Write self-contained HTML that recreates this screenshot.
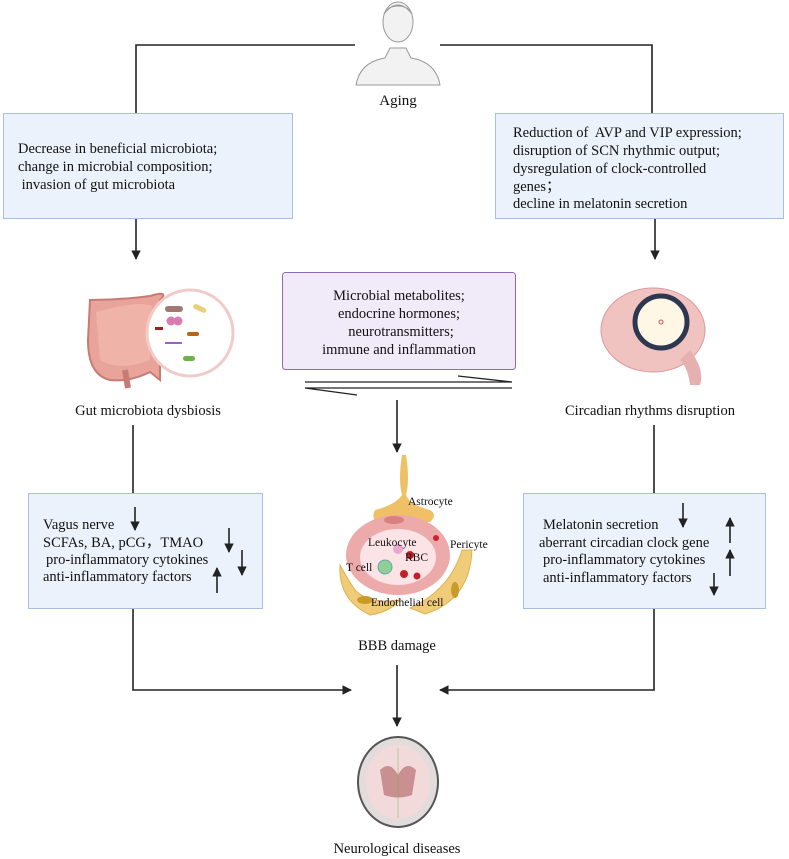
<!DOCTYPE html>
<html><head><meta charset="utf-8"><style>
html,body{margin:0;padding:0;background:#fff;}
svg{display:block;}
text{font-family:"Liberation Serif",serif;fill:#111;}
</style></head><body>
<svg width="789" height="859" viewBox="0 0 789 859" xmlns="http://www.w3.org/2000/svg">
<defs>
<marker id="ah" viewBox="0 0 10 10" refX="9" refY="5" markerWidth="6" markerHeight="6" orient="auto"><path d="M0,0 L10,5 L0,10 z" fill="#222"/></marker>
</defs>
<g stroke="#222" stroke-width="1.6" fill="none">
<path d="M355,45 H136 V113"/>
<path d="M440,45 H652 V113"/>
<path d="M136,218 V259" marker-end="url(#ah)"/>
<path d="M655,218 V259" marker-end="url(#ah)"/>
<path d="M397,400 V452" marker-end="url(#ah)"/>
<path d="M133,425 V493"/>
<path d="M654,425 V493"/>
<path d="M133,609 V690 H351" marker-end="url(#ah)"/>
<path d="M654,609 V690 H440" marker-end="url(#ah)"/>
<path d="M397,665 V726" marker-end="url(#ah)"/>
<path d="M305,382 H512 L458,376" stroke-width="1.3"/>
<path d="M512,388 H305 L357,395" stroke-width="1.3"/>
</g>
<g fill="#f2f2f2" stroke="#999" stroke-width="1">
<path d="M356,85 Q360,62 385,58 L390,48 L406,48 L411,58 Q436,62 440,85 Z"/>
<ellipse cx="398" cy="22" rx="15" ry="20"/>
<path d="M384,14 Q398,-4 412,14 Q408,6 398,6 Q388,6 384,14Z" fill="#ddd"/>
</g>
<text x="398" y="105" font-size="15" text-anchor="middle">Aging</text>
<rect x="3.5" y="113.5" width="289" height="105" fill="#ecf2fb" stroke="#a9bfdc"/>
<text font-size="14.5"><tspan x="18" y="153">Decrease in beneficial microbiota;</tspan><tspan x="18" y="171">change in microbial composition;</tspan><tspan x="18" y="189"> invasion of gut microbiota</tspan></text>
<rect x="495.5" y="113.5" width="288" height="105" fill="#ecf2fb" stroke="#a9bfdc"/>
<text font-size="14.5" xml:space="preserve"><tspan x="513" y="137">Reduction of  AVP and VIP expression;</tspan><tspan x="513" y="155">disruption of SCN rhythmic output;</tspan><tspan x="513" y="173">dysregulation of clock-controlled</tspan><tspan x="513" y="191">genes；</tspan><tspan x="513" y="208">decline in melatonin secretion</tspan></text>
<g>
<path d="M90,300 Q120,300 150,296 Q170,290 160,300 L160,380 L150,372 Q130,382 110,380 Q88,375 88,340 Z" fill="#e8a49a" stroke="#c77b74" stroke-width="2"/>
<path d="M96,312 Q140,300 152,306 L150,360 Q120,372 100,360 Z" fill="#f0b3a8"/>
<path d="M125,370 L128,388" stroke="#c77b74" stroke-width="6"/>
<circle cx="190" cy="333" r="43" fill="#fff" stroke="#f0cbc8" stroke-width="3"/>
<rect x="165" y="306" width="18" height="6" rx="3" fill="#a07a70"/>
<rect x="193" y="306" width="14" height="5" rx="2.5" fill="#e8d07a" transform="rotate(25 200 308)"/>
<circle cx="171" cy="321" r="4.5" fill="#d97db0"/><circle cx="178" cy="321" r="4.5" fill="#d97db0"/>
<rect x="155" y="327" width="8" height="3" fill="#a02020"/>
<rect x="187" y="332" width="12" height="4" rx="2" fill="#b8650f"/>
<rect x="165" y="342" width="17" height="2" fill="#9b5fc6"/>
<rect x="183" y="356" width="12" height="5" rx="2.5" fill="#6fb04a"/>
</g>
<text x="148" y="415" font-size="14.5" text-anchor="middle">Gut microbiota dysbiosis</text>
<rect x="282.5" y="272.5" width="233" height="97" rx="3" fill="#f1ebf9" stroke="#8c6bb8"/>
<text font-size="14.5" text-anchor="middle"><tspan x="399" y="300">Microbial metabolites;</tspan><tspan x="399" y="318">endocrine hormones;</tspan><tspan x="401" y="336">neurotransmitters;</tspan><tspan x="399" y="354">immune and inflammation</tspan></text>
<g>
<ellipse cx="653" cy="330" rx="52" ry="42" fill="#f0c2c0" stroke="#d99" stroke-width="1"/>
<path d="M690,350 Q705,370 700,385 L690,385 Q688,368 680,360 Z" fill="#e6b0b0"/>
<circle cx="661" cy="322" r="26" fill="#fff7e6" stroke="#2d3850" stroke-width="5"/>
<circle cx="661" cy="322" r="2" fill="none" stroke="#c55" stroke-width="1"/>
</g>
<text x="650" y="415" font-size="14.5" text-anchor="middle">Circadian rhythms disruption</text>
<rect x="28.5" y="493.5" width="234" height="115" fill="#ecf2fb" stroke="#a9bfdc"/>
<text font-size="14.5"><tspan x="43" y="529">Vagus nerve</tspan><tspan x="43" y="547">SCFAs, BA, pCG，TMAO</tspan><tspan x="46" y="564">pro-inflammatory cytokines</tspan><tspan x="43" y="581">anti-inflammatory factors</tspan></text>
<g stroke="#222" stroke-width="1.6" fill="none">
<path d="M135,507 V530" marker-end="url(#ah)"/>
<path d="M229,528 V552" marker-end="url(#ah)"/>
<path d="M242,550 V575" marker-end="url(#ah)"/>
<path d="M217,593 V568" marker-end="url(#ah)"/>
</g>
<rect x="523.5" y="493.5" width="242" height="115" fill="#ecf2fb" stroke="#a9bfdc"/>
<text font-size="14.5"><tspan x="543" y="529">Melatonin secretion</tspan><tspan x="539" y="547">aberrant circadian clock gene</tspan><tspan x="543" y="564">pro-inflammatory cytokines</tspan><tspan x="543" y="582">anti-inflammatory factors</tspan></text>
<g stroke="#222" stroke-width="1.6" fill="none">
<path d="M683,503 V527" marker-end="url(#ah)"/>
<path d="M730,543 V518" marker-end="url(#ah)"/>
<path d="M730,576 V550" marker-end="url(#ah)"/>
<path d="M714,573 V595" marker-end="url(#ah)"/>
</g>
<g>
<path d="M402,455 Q398,480 402,495 Q395,505 375,510 Q370,520 380,522 L430,522 Q438,515 430,510 Q410,505 406,495 Q410,480 406,455 Z" fill="#efc065"/>
<ellipse cx="398" cy="555" rx="52" ry="40" fill="#ecaaaa"/>
<ellipse cx="398" cy="557" rx="38" ry="28" fill="#fbe3e6"/>
<ellipse cx="394" cy="520" rx="10" ry="4" fill="#d98080"/>
<path d="M340,565 Q338,600 370,615 Q390,612 400,600 Q370,605 355,590 Q345,575 340,565Z" fill="#f0cc78" stroke="#e0b050"/>
<ellipse cx="365" cy="600" rx="8" ry="4" fill="#c99b2a"/>
<path d="M472,550 Q470,600 425,614 L410,608 Q450,590 462,550 Z" fill="#f0cc78" stroke="#e0b050"/>
<ellipse cx="455" cy="590" rx="4" ry="8" fill="#c99b2a"/>
<circle cx="385" cy="567" r="7" fill="#8fcf9a" stroke="#6aa"/>
<circle cx="410" cy="555" r="4" fill="#c0202a"/><circle cx="404" cy="574" r="4" fill="#c0202a"/><circle cx="417" cy="576" r="3.5" fill="#c0202a"/>
<circle cx="398" cy="549" r="5" fill="#e8a8d0"/>
<circle cx="436" cy="538" r="3" fill="#d02030"/>
</g>
<g font-size="11.5">
<text x="408" y="505">Astrocyte</text>
<text x="368" y="546">Leukocyte</text>
<text x="405" y="561">RBC</text>
<text x="450" y="548">Pericyte</text>
<text x="346" y="571">T cell</text>
<text x="371" y="606">Endothelial cell</text>
</g>
<text x="397" y="650" font-size="14.5" text-anchor="middle">BBB damage</text>
<g>
<ellipse cx="398" cy="782" rx="40" ry="45" fill="#e2dcdc" stroke="#555" stroke-width="2"/>
<ellipse cx="398" cy="782" rx="32" ry="37" fill="#f2dada"/>
<path d="M380,770 Q390,760 398,775 Q406,760 416,770 L412,795 Q398,800 384,795 Z" fill="#c89090"/>
<path d="M398,748 V818" stroke="#8a6" stroke-width="0.5"/>
</g>
<text x="397" y="853" font-size="14.5" text-anchor="middle">Neurological diseases</text>
</svg>
</body></html>
